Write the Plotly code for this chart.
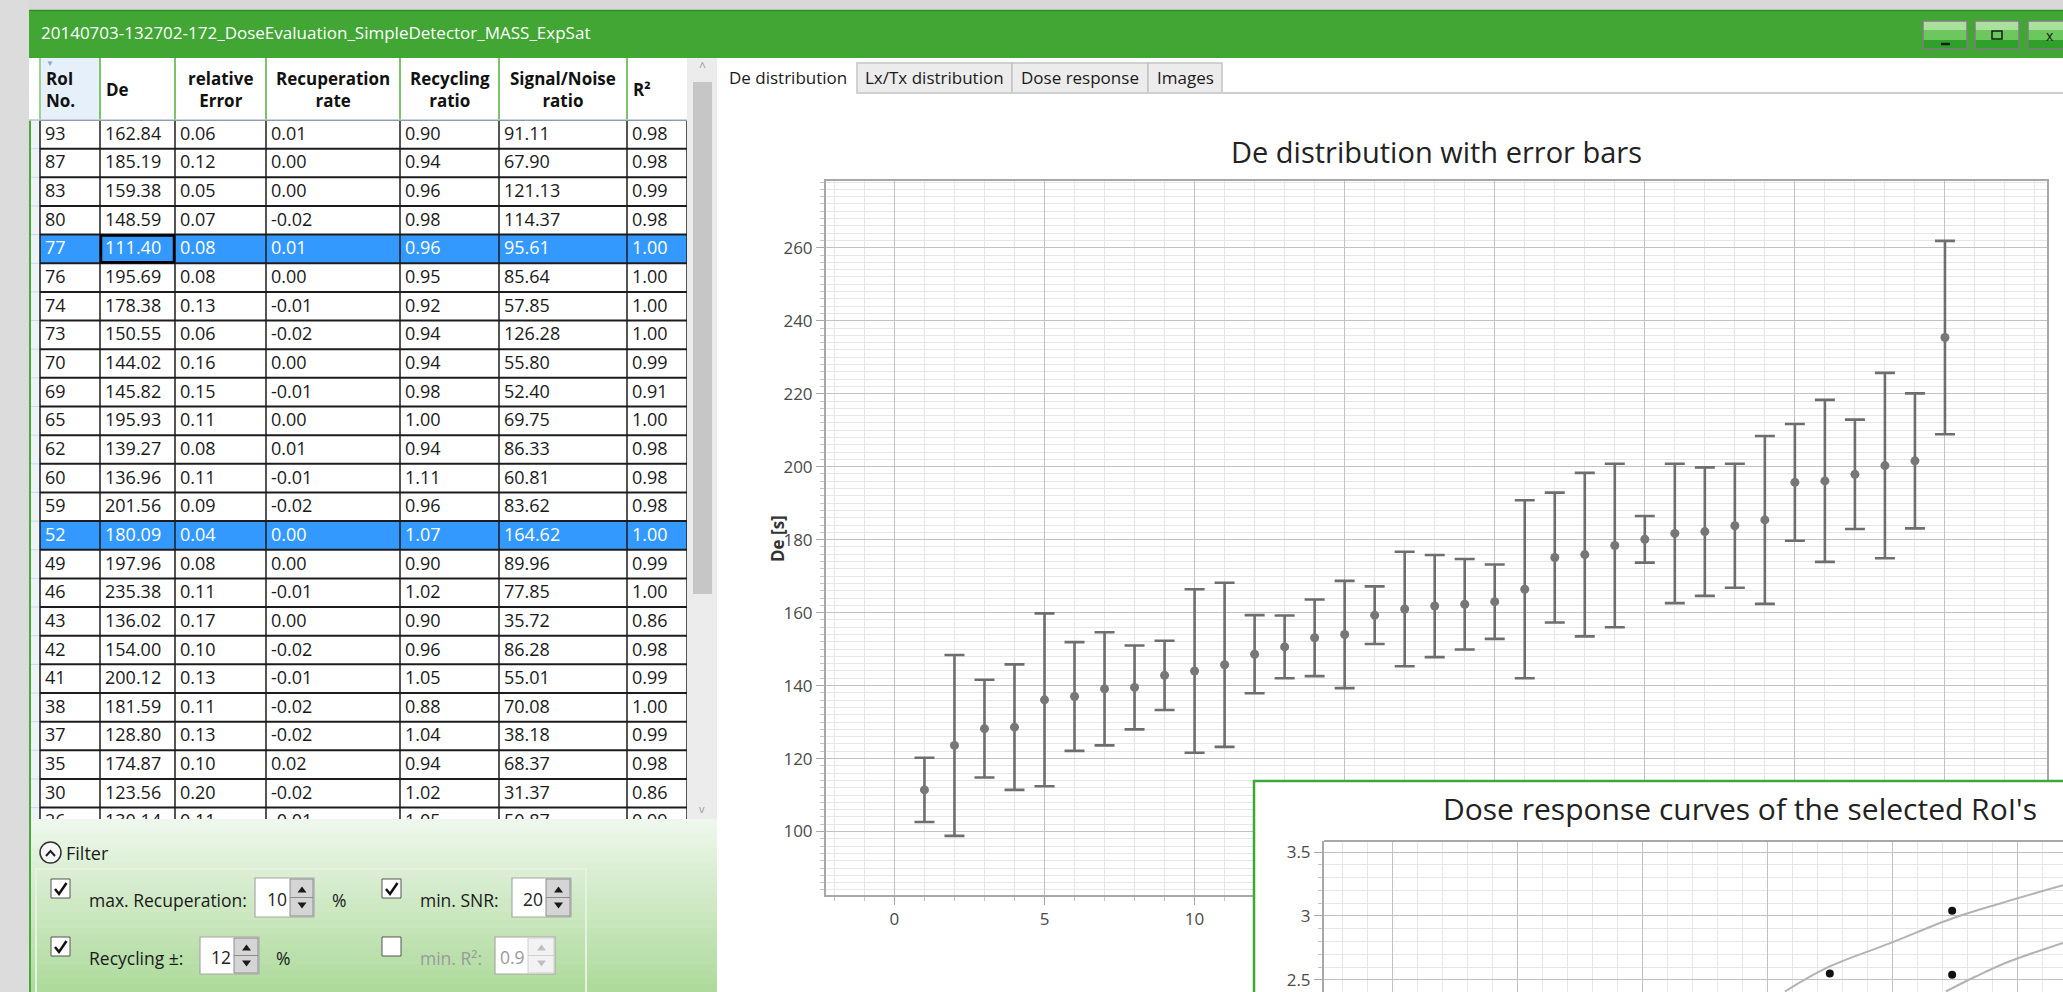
import plotly.graph_objects as go

W, H = 2063, 992
FONT = "Open Sans"

# ---------------- table data ----------------
roi_no      = [93, 87, 83, 80, 77, 76, 74, 73, 70, 69, 65, 62, 60, 59, 52, 49, 46, 43, 42, 41, 38, 37, 35, 30, 26]
de_value    = [162.84, 185.19, 159.38, 148.59, 111.40, 195.69, 178.38, 150.55, 144.02, 145.82, 195.93, 139.27,
               136.96, 201.56, 180.09, 197.96, 235.38, 136.02, 154.00, 200.12, 181.59, 128.80, 174.87, 123.56, 130.14]
rel_error   = [0.06, 0.12, 0.05, 0.07, 0.08, 0.08, 0.13, 0.06, 0.16, 0.15, 0.11, 0.08, 0.11, 0.09, 0.04, 0.08,
               0.11, 0.17, 0.10, 0.13, 0.11, 0.13, 0.10, 0.20, 0.11]
recup_rate  = [0.01, 0.00, 0.00, -0.02, 0.01, 0.00, -0.01, -0.02, 0.00, -0.01, 0.00, 0.01, -0.01, -0.02, 0.00,
               0.00, -0.01, 0.00, -0.02, -0.01, -0.02, -0.02, 0.02, -0.02, -0.01]
recyc_ratio = [0.90, 0.94, 0.96, 0.98, 0.96, 0.95, 0.92, 0.94, 0.94, 0.98, 1.00, 0.94, 1.11, 0.96, 1.07, 0.90,
               1.02, 0.90, 0.96, 1.05, 0.88, 1.04, 0.94, 1.02, 1.05]
snr_ratio   = [91.11, 67.90, 121.13, 114.37, 95.61, 85.64, 57.85, 126.28, 55.80, 52.40, 69.75, 86.33, 60.81,
               83.62, 164.62, 89.96, 77.85, 35.72, 86.28, 55.01, 70.08, 38.18, 68.37, 31.37, 50.87]
r_squared   = [0.98, 0.98, 0.99, 0.98, 1.00, 1.00, 1.00, 1.00, 0.99, 0.91, 1.00, 0.98, 0.98, 0.98, 1.00, 0.99,
               1.00, 0.86, 0.98, 0.99, 1.00, 0.99, 0.98, 0.86, 0.99]
selected_roi = [77, 52]
header_labels = ["RoI<br>No.", "De", "relative<br>Error", "Recuperation<br>rate", "Recycling<br>ratio",
                 "Signal/Noise<br>ratio", "R²"]
tab_labels = ["De distribution", "Lx/Tx distribution", "Dose response", "Images"]
window_title = "20140703-132702-172_DoseEvaluation_SimpleDetector_MASS_ExpSat"

# ---------------- De distribution (sorted) ----------------
de_rank   = list(range(1, 36))
de_sorted = [111.4, 123.6, 128.2, 128.6, 136.1, 137.0, 139.1, 139.5, 142.8, 144.0, 145.7, 148.6, 150.6, 153.1,
             154.0, 159.3, 161.0, 161.8, 162.3, 163.0, 166.4, 175.1, 175.9, 178.4, 180.1, 181.7, 182.2, 183.8,
             185.4, 195.7, 196.1, 197.9, 200.3, 201.6, 235.4]
de_err    = [8.8, 24.8, 13.4, 17.2, 23.7, 14.9, 15.5, 11.5, 9.5, 22.4, 22.5, 10.7, 8.6, 10.5, 14.7, 7.9, 15.7,
             14.0, 12.4, 10.2, 24.4, 17.8, 22.4, 22.4, 6.4, 19.1, 17.6, 17.0, 23.0, 16.0, 22.2, 15.0, 25.4,
             18.5, 26.5]

# ---------------- dose response inset ----------------
dose_x  = [225, 274, 274]
lxtx_y  = [2.55, 3.04, 2.54]
fit1_x  = [207.0, 224.3, 249.5, 274.0, 293.6, 318.4]
fit1_y  = [2.41, 2.60, 2.79, 2.98, 3.10, 3.24]
fit2_x  = [271.5, 283.2, 295.6, 318.4]
fit2_y  = [2.41, 2.525, 2.635, 2.79]

# ---------------- helpers ----------------
def fx(x): return x / W
def fy(y): return 1 - y / H

shapes, annotations = [], []

def rect(x0, y0, x1, y1, fill=None, line=None, lw=0, layer="above", ref="paper"):
    d = dict(type="rect", layer=layer, fillcolor=fill or "rgba(0,0,0,0)",
             line=dict(color=line or "rgba(0,0,0,0)", width=lw))
    if ref == "paper":
        d.update(xref="paper", yref="paper", x0=fx(x0), x1=fx(x1), y0=fy(y0), y1=fy(y1))
    else:
        d.update(xref="x4", yref="y4", x0=x0, x1=x1, y0=y0, y1=y1)
    shapes.append(d)

def hline(x0, x1, y, color, lw, ref="paper", layer="above"):
    if ref == "paper":
        shapes.append(dict(type="line", xref="paper", yref="paper", x0=fx(x0), x1=fx(x1), y0=fy(y), y1=fy(y),
                           line=dict(color=color, width=lw), layer=layer))
    else:
        shapes.append(dict(type="line", xref="x4", yref="y4", x0=x0, x1=x1, y0=y, y1=y,
                           line=dict(color=color, width=lw), layer=layer))

def vline(x, y0, y1, color, lw, ref="paper", layer="above"):
    if ref == "paper":
        shapes.append(dict(type="line", xref="paper", yref="paper", x0=fx(x), x1=fx(x), y0=fy(y0), y1=fy(y1),
                           line=dict(color=color, width=lw), layer=layer))
    else:
        shapes.append(dict(type="line", xref="x4", yref="y4", x0=x, x1=x, y0=y0, y1=y1,
                           line=dict(color=color, width=lw), layer=layer))

def path(points, color, lw=0, fill=None, close=False):
    s = "M " + " L ".join(f"{fx(x):.6f},{fy(y):.6f}" for x, y in points)
    if close:
        s += " Z"
    shapes.append(dict(type="path", xref="paper", yref="paper", path=s, layer="above",
                       fillcolor=fill or "rgba(0,0,0,0)", line=dict(color=color, width=lw)))

def label(x, y, s, size=16, color="#222222", xanchor="left", bold=False, angle=0, align="left"):
    annotations.append(dict(xref="paper", yref="paper", x=fx(x), y=fy(y),
                            text=(f"<b>{s}</b>" if bold else s), showarrow=False,
                            xanchor=xanchor, yanchor="middle", textangle=angle, align=align,
                            font=dict(family=FONT, size=size, color=color), borderpad=0))

# ---------------- window frame ----------------
rect(0, 0, W, 10, fill="#d8d8d8")
rect(0, 0, 29, H, fill="#dcdcdc")
rect(29, 10, W + 5, 58, fill="#42a634")
hline(29, W, 10.5, "#2f8f27", 1.5)
label(40, 33, window_title, size=17, color="white")
vline(30, 58, H, "#4aa83c", 2)

# window buttons
for bx0, bx1 in [(1923, 1967), (1975, 2019), (2028, 2075)]:
    rect(bx0, 21, bx1, 30, fill="#a9e09c")
    rect(bx0, 30, bx1, 40, fill="#6cc85e")
    rect(bx0, 40, bx1, 49, fill="#2fa12a")
    rect(bx0, 21, bx1, 49, line="#7d7d7d", lw=1.5)
hline(1941, 1950, 44, "#1a1a1a", 2.5)
rect(1992, 31, 2002, 39, line="#1a1a1a", lw=1.5)
label(2050, 36, "x", size=14, color="#1a1a1a", xanchor="center")

# ---------------- table ----------------
col_x = [40, 100, 175, 266, 400, 499, 627, 687]
hdr_top, hdr_bot, row_h = 58, 120, 28.65
tbl_bot = 819
n = len(roi_no)
row_top = [hdr_bot + row_h * i for i in range(n)]
row_c = [t + row_h / 2 for t in row_top]
is_sel = [r in selected_roi for r in roi_no]

# header
rect(29, hdr_top, 687, hdr_bot, fill="white")
rect(col_x[0], hdr_top, col_x[1], hdr_bot, fill="#e6f0fa")
for cx in col_x[1:-1]:
    vline(cx, hdr_top, hdr_bot, "#7cc46a", 2)
vline(col_x[0], hdr_top, hdr_bot, "#9fd193", 2)
hline(29, 687, hdr_bot, "#b8c6d6", 1.5)
label(50, 63, "▼", size=8, color="#8aa6c8", xanchor="center")
for ci, txt in enumerate(header_labels):
    cx0, cx1 = col_x[ci], col_x[ci + 1]
    if ci in (0, 1, 6):
        label(cx0 + 5, (hdr_top + hdr_bot) / 2 + 1, txt, size=17, color="#111111", bold=True)
    else:
        label((cx0 + cx1) / 2, (hdr_top + hdr_bot) / 2 + 1, txt, size=17, color="#111111", bold=True,
              xanchor="center", align="center")

# row-header strip
rect(29, hdr_bot, col_x[0], tbl_bot, fill="#eef3f8", layer="below", ref="x4")
# selection fill
for i in range(n):
    if is_sel[i]:
        rect(col_x[0], row_top[i], col_x[-1], row_top[i] + row_h, fill="#3399ff", layer="below", ref="x4")
# grid lines
for i in range(n + 1):
    y = hdr_bot + row_h * i
    hline(col_x[0], col_x[-1], y, "#1c1c1c", 2, ref="x4", layer="below")
    hline(31, col_x[0], y, "#c9d7e6", 1, ref="x4", layer="below")
for cx in col_x:
    vline(cx, hdr_bot, tbl_bot, "#1c1c1c", 1.5, ref="x4", layer="below")
# focused cell
fi = roi_no.index(77)
rect(col_x[1] + 1, row_top[fi] + 1, col_x[2] - 1, row_top[fi] + row_h - 1, line="#000000", lw=2.5,
     layer="below", ref="x4")

# scrollbar
rect(687, 58, 717, 819, fill="#ececec")
rect(693, 82, 712, 594, fill="#c6c6c6")
label(702, 67, "^", size=12, color="#9a9a9a", xanchor="center")
label(702, 808, "v", size=11, color="#9a9a9a", xanchor="center")

# ---------------- filter panel ----------------
n_strip = 24
c_top, c_bot = (238, 247, 235), (174, 218, 156)
for k in range(n_strip):
    t = k / (n_strip - 1)
    col = tuple(int(round(a + (b - a) * t)) for a, b in zip(c_top, c_bot))
    y0 = 819 + (H - 819) * k / n_strip
    y1 = 819 + (H - 819) * (k + 1) / n_strip + 0.6
    rect(29, y0, 717, y1, fill=f"rgb{col}")
vline(30, 819, H, "#4aa83c", 2)
rect(36, 869, 586, 1000, line="#e4f2de", lw=2)
shapes.append(dict(type="circle", xref="paper", yref="paper", x0=fx(40), x1=fx(61), y0=fy(842), y1=fy(863),
                   line=dict(color="#333333", width=1.5), fillcolor="#f7f7f7", layer="above"))
path([(46, 856), (50.5, 851), (55, 856)], "#222222", 2)
label(65, 853, "Filter", size=18, color="#1a1a1a")

FS = 17.5

def checkbox(x0, y0, checked):
    rect(x0, y0, x0 + 19, y0 + 19, fill="white", line="#555555", lw=1)
    if checked:
        path([(x0 + 4, y0 + 10), (x0 + 8, y0 + 15), (x0 + 15.5, y0 + 4)], "#111111", 2.5)

def spinbox(x0, y0, x1, y1, ax, text, enabled=True):
    rect(x0, y0, x1, y1, fill="white", line="#a8a8a8", lw=1.2)
    ym = (y0 + y1) / 2
    bfill = "#d5d5d5" if enabled else "#f2f2f2"
    bline = "#8c8c8c" if enabled else "#d0d0d0"
    rect(ax, y0 + 1, x1 - 1, ym, fill=bfill, line=bline, lw=1)
    rect(ax, ym, x1 - 1, y1 - 1, fill=bfill, line=bline, lw=1)
    acol = "#1a1a1a" if enabled else "#c0c0c0"
    cx = (ax + x1) / 2
    path([(cx - 4.5, ym - 5), (cx, ym - 11), (cx + 4.5, ym - 5)], acol, 0, fill=acol, close=True)
    path([(cx - 4.5, ym + 5), (cx, ym + 11), (cx + 4.5, ym + 5)], acol, 0, fill=acol, close=True)
    label(ax - 2, ym + 1, text, size=FS, color="#222222" if enabled else "#9a9a9a", xanchor="right")

checkbox(51, 879, True)
label(88, 900, "max. Recuperation:", size=FS, color="#1a1a1a")
spinbox(255, 878, 314, 917, 290, "10")
label(331, 900, "%", size=FS, color="#1a1a1a")
checkbox(382, 879, True)
label(419, 900, "min. SNR:", size=FS, color="#1a1a1a")
spinbox(512, 878, 571, 917, 546, "20")

checkbox(51, 937, True)
label(88, 958, "Recycling ±:", size=FS, color="#1a1a1a")
spinbox(200, 937, 259, 974, 234, "12")
label(275, 958, "%", size=FS, color="#1a1a1a")
checkbox(382, 937, False)
label(419, 958, "min. R²:", size=FS, color="#9a9a9a")
spinbox(495, 937, 555, 974, 528, "0.9", enabled=False)

# ---------------- tabs ----------------
tab_x = [718, 857, 1012, 1148, 1222]
for ti, name in enumerate(tab_labels):
    x0, x1 = tab_x[ti], tab_x[ti + 1]
    if ti > 0:
        rect(x0, 63, x1, 93, fill="#ececec", line="#c4c4c4", lw=1.5)
    label((x0 + x1) / 2, 78, name, size=17, color="#1a1a1a", xanchor="center")
hline(857, W, 93, "#cfcfcf", 2)

# ---------------- chart titles ----------------
label(1436, 151, "De distribution with error bars", size=29, color="#222222", xanchor="center")
label(777, 539, "De [s]", size=17, color="#333333", xanchor="center", bold=True, angle=-90)

# inset frame and title
rect(1254, 781, 2075, 1000, line="#3ea836", lw=2.5)
label(1740, 808, "Dose response curves of the selected RoI's", size=30, color="#222222", xanchor="center")
hline(1324, W, 841, "#a8a8a8", 2)

# ---------------- figure ----------------
fig = go.Figure()

fig.add_trace(go.Scatter(
    x=de_rank, y=de_sorted, mode="markers",
    marker=dict(color="#777777", size=9),
    error_y=dict(type="data", array=de_err, color="#6e6e6e", thickness=2.6, width=10),
    xaxis="x", yaxis="y", hoverinfo="skip", showlegend=False))

# cover subplot (white panel of the inset)
fig.add_trace(go.Scatter(x=[None], y=[None], mode="markers", xaxis="x2", yaxis="y2",
                         hoverinfo="skip", showlegend=False))

# inset plot
fig.add_trace(go.Scatter(x=fit1_x, y=fit1_y, mode="lines", line=dict(color="#b3b3b3", width=2, shape="spline"),
                         xaxis="x3", yaxis="y3", hoverinfo="skip", showlegend=False))
fig.add_trace(go.Scatter(x=fit2_x, y=fit2_y, mode="lines", line=dict(color="#b3b3b3", width=2, shape="spline"),
                         xaxis="x3", yaxis="y3", hoverinfo="skip", showlegend=False))
fig.add_trace(go.Scatter(x=dose_x, y=lxtx_y, mode="markers", marker=dict(color="#111111", size=8),
                         xaxis="x3", yaxis="y3", hoverinfo="skip", showlegend=False))

# table text (clipped to the table area)
fmt = lambda v: f"{v:.2f}"
columns = [[str(r) for r in roi_no], [fmt(v) for v in de_value], [fmt(v) for v in rel_error],
           [fmt(v) for v in recup_rate], [fmt(v) for v in recyc_ratio], [fmt(v) for v in snr_ratio],
           [fmt(v) for v in r_squared]]
txt_col = ["white" if s else "#1a1a1a" for s in is_sel]
for ci, vals in enumerate(columns):
    fig.add_trace(go.Scatter(
        x=[col_x[ci] + 5] * n, y=[c + 1 for c in row_c], text=vals, mode="text",
        textposition="middle right", textfont=dict(family=FONT, size=18, color=txt_col),
        cliponaxis=True, xaxis="x4", yaxis="y4", hoverinfo="skip", showlegend=False))

grid_major = "#c2c2c2"
grid_minor = "#e6e6e6"
tickfont = dict(family=FONT, size=17, color="#4a4a4a")

fig.update_layout(
    width=W, height=H, margin=dict(l=0, r=0, t=0, b=0),
    paper_bgcolor="white", plot_bgcolor="white", showlegend=False,
    shapes=shapes, annotations=annotations,
    xaxis=dict(domain=[fx(826), fx(2047)], range=[-2.28, 38.4], anchor="y",
               tick0=0, dtick=5, showgrid=True, gridcolor=grid_major, gridwidth=1.3,
               ticks="outside", ticklen=8, tickcolor="#a8a8a8", tickwidth=1.3,
               minor=dict(dtick=1, showgrid=True, gridcolor=grid_minor, ticks="outside", ticklen=4,
                          tickcolor="#c4c4c4"),
               showline=True, linecolor="#a8a8a8", linewidth=2, mirror=True, zeroline=False,
               tickfont=tickfont),
    yaxis=dict(domain=[fy(895), fy(181)], range=[82.6, 278.3], anchor="x",
               tick0=0, dtick=20, showgrid=True, gridcolor=grid_major, gridwidth=1.3,
               ticks="outside", ticklen=8, tickcolor="#a8a8a8", tickwidth=1.3,
               minor=dict(dtick=2, showgrid=True, gridcolor=grid_minor, ticks="outside", ticklen=4,
                          tickcolor="#c4c4c4"),
               showline=True, linecolor="#a8a8a8", linewidth=2, mirror=True, zeroline=False,
               tickfont=tickfont),
    xaxis2=dict(domain=[fx(1254), 1], range=[0, 1], anchor="y2", visible=False),
    yaxis2=dict(domain=[0, fy(781)], range=[0, 1], anchor="x2", visible=False),
    xaxis3=dict(domain=[fx(1324), 1], range=[22.4, 318.4], anchor="y3",
                tick0=0, dtick=50, showgrid=True, gridcolor=grid_major, gridwidth=1.3,
                minor=dict(dtick=10, showgrid=True, gridcolor=grid_minor),
                showline=False, zeroline=False, showticklabels=False, ticks=""),
    yaxis3=dict(domain=[0, fy(841)], range=[2.406, 3.586], anchor="x3",
                tick0=0, dtick=0.5, showgrid=True, gridcolor=grid_major, gridwidth=1.3,
                ticks="outside", ticklen=8, tickcolor="#a8a8a8", tickwidth=1.3,
                minor=dict(dtick=0.1, showgrid=True, gridcolor=grid_minor, ticks="outside", ticklen=4,
                           tickcolor="#c4c4c4"),
                showline=True, linecolor="#a8a8a8", linewidth=2, zeroline=False, tickfont=tickfont),
    xaxis4=dict(domain=[fx(29), fx(687)], range=[29, 687], anchor="y4", visible=False),
    yaxis4=dict(domain=[fy(819), fy(58)], range=[819, 58], anchor="x4", visible=False),
)

fig.write_html("out.html", config={"displayModeBar": False},
               post_script="document.body.style.margin='0';document.body.style.overflow='hidden';")
